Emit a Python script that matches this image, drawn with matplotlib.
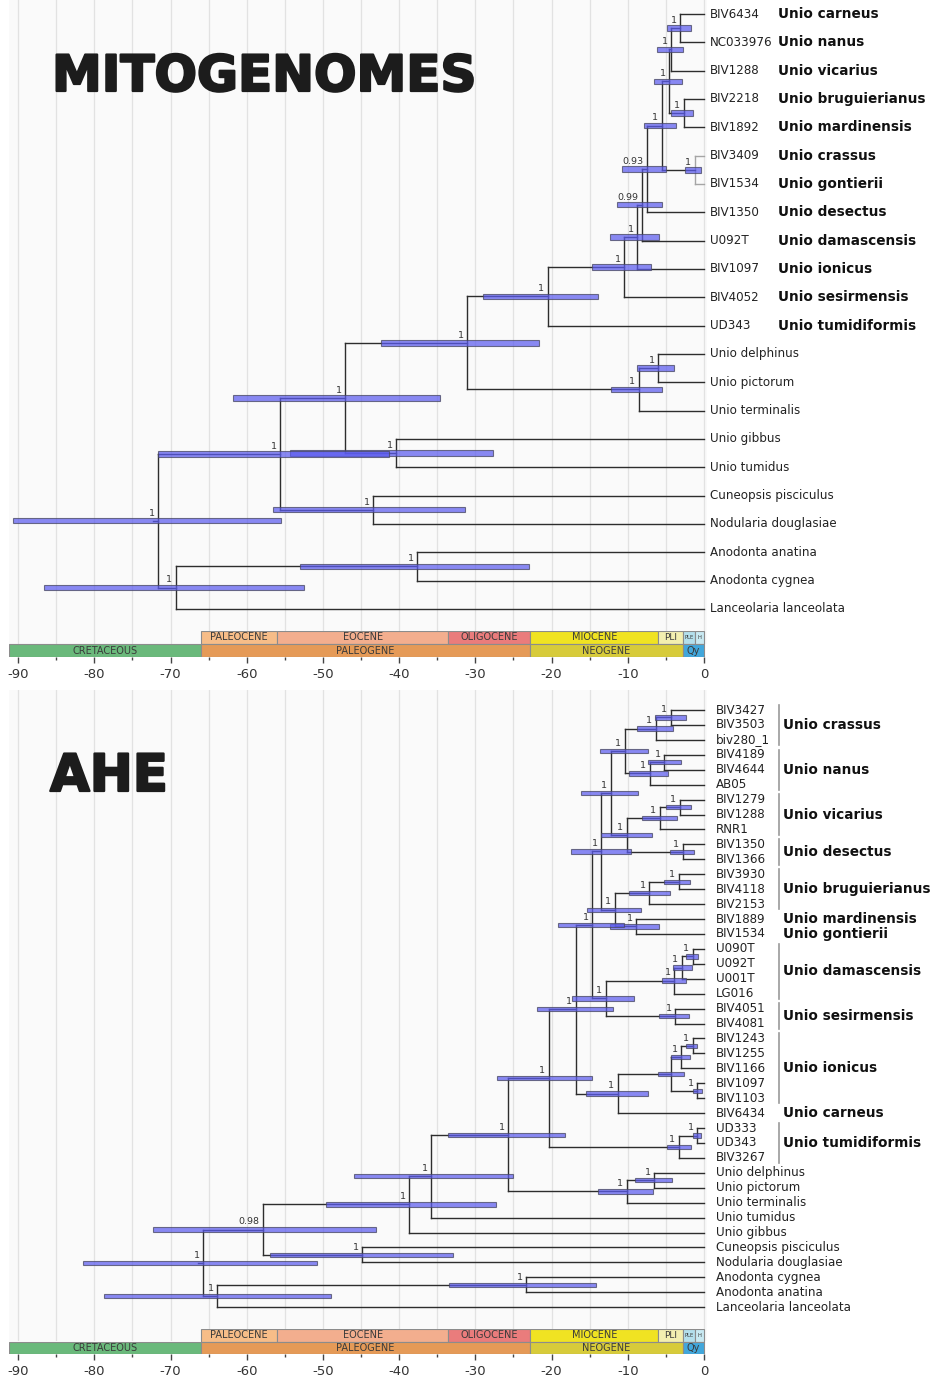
import numpy as np
import matplotlib.pyplot as plt
import matplotlib.patheffects as pe
from matplotlib.transforms import blended_transform_factory

plt.rcParams['font.family'] = ['DejaVu Sans']
plt.rcParams['axes.unicode_minus'] = False

# ---------------- data: mitogenome tree ----------------
top_tips = ["BIV6434", "NC033976", "BIV1288", "BIV2218", "BIV1892", "BIV3409",
            "BIV1534", "BIV1350", "U092T", "BIV1097", "BIV4052", "UD343",
            "Unio delphinus", "Unio pictorum", "Unio terminalis", "Unio gibbus",
            "Unio tumidus", "Cuneopsis pisciculus", "Nodularia douglasiae",
            "Anodonta anatina", "Anodonta cygnea", "Lanceolaria lanceolata"]
top_species = ["Unio carneus", "Unio nanus", "Unio vicarius", "Unio bruguierianus",
               "Unio mardinensis", "Unio crassus", "Unio gontierii", "Unio desectus",
               "Unio damascensis", "Unio ionicus", "Unio sesirmensis",
               "Unio tumidiformis"] + [""] * 10

top_nodes = [("m1", "BIV6434", "NC033976"), ("m2", "m1", "BIV1288"),
             ("m3", "BIV2218", "BIV1892"), ("m4", "m2", "m3"),
             ("m5", "BIV3409", "BIV1534"), ("m6", "m4", "m5"),
             ("m7", "m6", "BIV1350"), ("m8", "m7", "U092T"),
             ("m9", "m8", "BIV1097"), ("m10", "m9", "BIV4052"),
             ("m11", "m10", "UD343"), ("m12", "Unio delphinus", "Unio pictorum"),
             ("m13", "m12", "Unio terminalis"), ("m14", "m11", "m13"),
             ("m15", "Unio gibbus", "Unio tumidus"), ("m16", "m14", "m15"),
             ("m17", "Cuneopsis pisciculus", "Nodularia douglasiae"),
             ("m18", "m16", "m17"), ("m19", "Anodonta anatina", "Anodonta cygnea"),
             ("m20", "m19", "Lanceolaria lanceolata"), ("m21", "m18", "m20")]
top_age = [-3.15, -4.3, -2.65, -4.6, -1.2, -5.55, -7.5, -8.1, -8.75, -10.5, -20.5,
           -6.0, -8.55, -31.1, -40.4, -47.1, -43.4, -55.6, -37.6, -69.3, -71.6]
top_lo = [-4.9, -6.2, -4.3, -6.55, -2.5, -7.9, -10.7, -11.4, -12.3, -14.7, -29.0,
          -8.8, -12.2, -42.4, -54.3, -61.8, -56.5, -71.7, -53.0, -86.6, -90.7]
top_hi = [-1.7, -2.75, -1.5, -2.9, -0.45, -3.7, -5.0, -5.5, -5.95, -7.0, -13.9,
          -3.9, -5.5, -21.7, -27.7, -34.6, -31.3, -41.3, -23.0, -52.5, -55.5]
top_sup = ["1"] * 6 + ["0.93", "0.99"] + ["1"] * 13

# ---------------- data: AHE tree ----------------
bot_tips = ["BIV3427", "BIV3503", "biv280_1", "BIV4189", "BIV4644", "AB05",
            "BIV1279", "BIV1288", "RNR1", "BIV1350", "BIV1366", "BIV3930",
            "BIV4118", "BIV2153", "BIV1889", "BIV1534", "U090T", "U092T", "U001T",
            "LG016", "BIV4051", "BIV4081", "BIV1243", "BIV1255", "BIV1166",
            "BIV1097", "BIV1103", "BIV6434", "UD333", "UD343", "BIV3267",
            "Unio delphinus", "Unio pictorum", "Unio terminalis", "Unio tumidus",
            "Unio gibbus", "Cuneopsis pisciculus", "Nodularia douglasiae",
            "Anodonta cygnea", "Anodonta anatina", "Lanceolaria lanceolata"]

bot_nodes = [("a1", "BIV3427", "BIV3503"), ("a2", "a1", "biv280_1"),
             ("a3", "BIV4189", "BIV4644"), ("a4", "a3", "AB05"),
             ("a5", "a2", "a4"), ("a6", "BIV1279", "BIV1288"),
             ("a7", "a6", "RNR1"), ("a8", "BIV1350", "BIV1366"),
             ("a9", "a7", "a8"), ("a10", "a5", "a9"),
             ("a11", "BIV3930", "BIV4118"), ("a12", "a11", "BIV2153"),
             ("a13", "BIV1889", "BIV1534"), ("a14", "a12", "a13"),
             ("a15", "a10", "a14"), ("a16", "U090T", "U092T"),
             ("a17", "a16", "U001T"), ("a18", "a17", "LG016"),
             ("a19", "BIV4051", "BIV4081"), ("a20", "a18", "a19"),
             ("a21", "a15", "a20"), ("a22", "BIV1243", "BIV1255"),
             ("a23", "a22", "BIV1166"), ("a24", "BIV1097", "BIV1103"),
             ("a25", "a23", "a24"), ("a26", "a25", "BIV6434"),
             ("a27", "a21", "a26"), ("a28", "UD333", "UD343"),
             ("a29", "a28", "BIV3267"), ("a30", "a27", "a29"),
             ("a31", "Unio delphinus", "Unio pictorum"),
             ("a32", "a31", "Unio terminalis"), ("a33", "a30", "a32"),
             ("a34", "a33", "Unio tumidus"), ("a35", "a34", "Unio gibbus"),
             ("a36", "Cuneopsis pisciculus", "Nodularia douglasiae"),
             ("a37", "a35", "a36"), ("a38", "Anodonta cygnea", "Anodonta anatina"),
             ("a39", "a38", "Lanceolaria lanceolata"), ("a40", "a37", "a39")]
bot_age = [-4.37, -6.35, -5.2, -7.1, -10.4, -3.2, -5.8, -2.8, -10.15, -12.25,
           -3.3, -7.2, -8.9, -11.7, -13.5, -1.5, -2.9, -3.9, -3.8, -12.9,
           -14.7, -1.5, -3.0, -0.9, -4.3, -11.3, -16.85, -0.9, -3.3, -20.4,
           -6.55, -10.15, -25.7, -35.8, -38.7, -44.85, -57.9, -23.3, -63.9, -65.7]
bot_lo = [-6.4, -8.85, -7.4, -9.8, -13.65, -5.0, -8.1, -4.4, -13.55, -16.15,
          -5.2, -9.9, -12.35, -15.4, -17.5, -2.3, -4.0, -5.55, -5.9, -17.3,
          -19.1, -2.4, -4.3, -1.5, -6.0, -15.5, -21.9, -1.5, -4.9, -27.2,
          -9.05, -13.9, -33.6, -45.9, -49.6, -57.0, -72.3, -33.5, -78.7, -81.5]
bot_hi = [-2.4, -4.1, -3.0, -4.7, -7.3, -1.75, -3.6, -1.3, -6.85, -8.6,
          -1.85, -4.45, -5.9, -8.2, -9.6, -0.75, -1.6, -2.4, -2.0, -9.2,
          -10.5, -0.85, -1.8, -0.3, -2.6, -7.4, -11.9, -0.4, -1.75, -14.7,
          -4.25, -6.7, -18.2, -25.0, -27.3, -32.9, -43.05, -14.2, -49.0, -50.75]
bot_sup = ["1"] * 24 + [""] + ["1"] * 11 + ["0.98"] + ["1"] * 3

group_names = ["Unio crassus", "Unio nanus", "Unio vicarius", "Unio desectus",
               "Unio bruguierianus", "Unio mardinensis", "Unio gontierii",
               "Unio damascensis", "Unio sesirmensis", "Unio ionicus",
               "Unio carneus", "Unio tumidiformis"]
group_first = ["BIV3427", "BIV4189", "BIV1279", "BIV1350", "BIV3930", "BIV1889",
               "BIV1534", "U090T", "BIV4051", "BIV1243", "BIV6434", "UD333"]
group_last = ["biv280_1", "AB05", "RNR1", "BIV1366", "BIV2153", "BIV1889",
              "BIV1534", "LG016", "BIV4081", "BIV1103", "BIV6434", "BIV3267"]

# ---------------- data: geological time scale ----------------
epoch_names = ["PALEOCENE", "EOCENE", "OLIGOCENE", "MIOCENE", "PLI", "PLE", "H"]
epoch_start = [-66.0, -56.0, -33.6, -22.8, -6.0, -2.8, -1.2]
epoch_end = [-56.0, -33.6, -22.8, -6.0, -2.8, -1.2, 0.0]
epoch_colors = ["#f7bd88", "#f3ae8e", "#ea7c7c", "#f0e322", "#f3efb0", "#b3dfec", "#c8e9f2"]
epoch_fs = [7, 7, 7, 7, 6.5, 3.8, 3.8]
period_names = ["CRETACEOUS", "PALEOGENE", "NEOGENE", "Qy"]
period_start = [-91.2, -66.0, -22.8, -2.8]
period_end = [-66.0, -22.8, -2.8, 0.0]
period_colors = ["#6ab97b", "#e59a57", "#d7cb3a", "#41a7dc"]

# ---------------- layout ----------------
W, H = 930, 1381
XLIM = (-91.2, 0.4)
fig = plt.figure(figsize=(9.3, 13.81), dpi=100)


def px_axes(x0, y0, x1, y1):
    return fig.add_axes([x0 / W, 1 - y1 / H, (x1 - x0) / W, (y1 - y0) / H])


def draw_tree(ax, tips, nodes, age, lo, hi, sup, bar_h, grey=()):
    y = {t: i for i, t in enumerate(tips)}
    x = {t: 0.0 for t in tips}
    for (nid, c1, c2), a in zip(nodes, age):
        x[nid] = a
        y[nid] = (y[c1] + y[c2]) / 2
    lc = "#2d2d2d"
    for nid, c1, c2 in nodes:
        c = "#a5a5a5" if nid in grey else lc
        ax.plot([x[nid], x[nid]], [y[c1], y[c2]], color=c, lw=1.0, zorder=2)
        for ch in (c1, c2):
            ax.plot([x[nid], x[ch]], [y[ch], y[ch]], color=c, lw=1.0, zorder=2)
    root = nodes[-1][0]
    ax.plot([x[root] - 0.7, x[root]], [y[root], y[root]], color=lc, lw=1.0, zorder=2)
    ys = [y[n[0]] for n in nodes]
    ax.barh(ys, np.subtract(hi, lo), left=lo, height=bar_h,
            color=(0.36, 0.36, 0.94, 0.72), edgecolor=(0.28, 0.28, 0.38, 0.75),
            lw=0.8, zorder=3)
    for (nid, _, _), s in zip(nodes, sup):
        if s:
            ax.annotate(s, (x[nid], y[nid]), xytext=(-2.5, 2.3), textcoords="offset points",
                        ha="right", va="bottom", fontsize=6.8, color="#333333", zorder=4)
    ax.set_xlim(*XLIM)
    ax.set_facecolor("#fafafa")
    for v in np.arange(-90, 1, 5):
        ax.axvline(v, color="#e2e2e2", lw=0.9, zorder=0)
    for s in ax.spines.values():
        s.set_visible(False)
    ax.set_xticks([])
    ax.set_yticks([])
    return y


def draw_scale(ax):
    ax.barh([1] * len(epoch_names), np.subtract(epoch_end, epoch_start), left=epoch_start,
            height=1, color=epoch_colors, edgecolor="#8c8c8c", lw=0.8)
    for n, s, e, fs in zip(epoch_names, epoch_start, epoch_end, epoch_fs):
        ax.text((s + e) / 2, 1, n, ha="center", va="center", fontsize=fs, color="#3a3a3a")
    ax.barh([0] * len(period_names), np.subtract(period_end, period_start), left=period_start,
            height=1, color=period_colors, edgecolor="#8c8c8c", lw=0.8)
    for n, s, e in zip(period_names, period_start, period_end):
        ax.text((s + e) / 2, 0, n, ha="center", va="center", fontsize=7, color="#3a3a3a")
    ax.set_xlim(*XLIM)
    ax.set_ylim(-0.5, 1.5)
    ax.set_facecolor("none")
    for s in ax.spines.values():
        s.set_visible(False)
    ax.set_yticks([])
    ax.set_xticks(np.arange(-90, 1, 10))
    ax.set_xticks(np.arange(-85, 0, 5), minor=True)
    ax.tick_params(axis="x", which="major", length=4, width=1, color="#444444",
                   labelsize=9.5, labelcolor="#333333", pad=4)
    ax.tick_params(axis="x", which="minor", length=2.5, width=1, color="#444444")


# ---------------- top panel ----------------
ax1 = px_axes(9, 0, 707, 644)
ax1.set_ylim((644 - 14) / 28.33, -14 / 28.33)
ty = draw_tree(ax1, top_tips, top_nodes, top_age, top_lo, top_hi, top_sup, 0.19, grey=("m5",))
tr1 = blended_transform_factory(fig.transFigure, ax1.transData)
for name, sp in zip(top_tips, top_species):
    ax1.text(710 / W, ty[name], name, transform=tr1, ha="left", va="center",
             fontsize=8.6, color="#222222", clip_on=False)
    if sp:
        ax1.text(778 / W, ty[name], sp, transform=tr1, ha="left", va="center",
                 fontsize=9.8, fontweight="bold", color="#111111", clip_on=False)
sc1 = px_axes(9, 631, 707, 657)
draw_scale(sc1)

# ---------------- bottom panel ----------------
ax2 = px_axes(9, 690, 707, 1341)
ax2.set_ylim((1341 - 710) / 14.93, -20 / 14.93)
by = draw_tree(ax2, bot_tips, bot_nodes, bot_age, bot_lo, bot_hi, bot_sup, 0.29)
tr2 = blended_transform_factory(fig.transFigure, ax2.transData)
for name in bot_tips:
    ax2.text(716 / W, by[name], name, transform=tr2, ha="left", va="center",
             fontsize=8.6, color="#222222", clip_on=False)
for g, f, l in zip(group_names, group_first, group_last):
    y0, y1 = by[f], by[l]
    if l != f:
        ax2.plot([779 / W, 779 / W], [y0 - 0.35, y1 + 0.35], transform=tr2,
                 color="#9a9a9a", lw=1.2, clip_on=False)
    ax2.text(783 / W, (y0 + y1) / 2, g, transform=tr2, ha="left", va="center",
             fontsize=9.8, fontweight="bold", color="#111111", clip_on=False)
sc2 = px_axes(9, 1329, 707, 1354)
draw_scale(sc2)

# ---------------- titles ----------------
stroke = [pe.withStroke(linewidth=1.6, foreground="#1c1c1c")]
fig.text(52 / W, 1 - 77 / H, "MITOGENOMES", fontsize=36, fontweight="bold",
         color="#1c1c1c", ha="left", va="center", path_effects=stroke)
fig.text(50 / W, 1 - 777 / H, "AHE", fontsize=37, fontweight="bold",
         color="#1c1c1c", ha="left", va="center", path_effects=stroke)

fig.savefig("out.png", dpi=100)
